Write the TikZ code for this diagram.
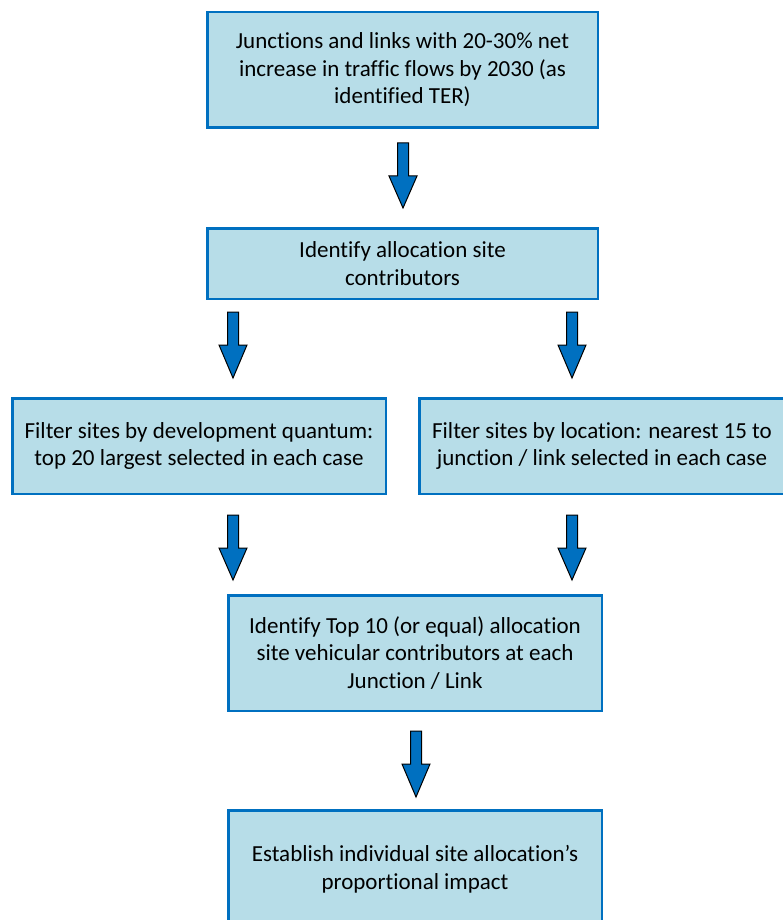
\documentclass[tikz,border=0pt]{standalone}
\usepackage{fontspec}
\setmainfont{Carlito}[Ligatures=NoCommon]
\definecolor{boxfill}{HTML}{B7DDE8}
\definecolor{boxline}{HTML}{0070C0}
\tikzset{
  flowbox/.style={draw=boxline, line width=2.5pt, fill=boxfill, align=center,
    font=\fontsize{23}{27.5}\selectfont, text=black, inner sep=0pt},
  blockarr/.style={draw=black, line width=1pt, fill=boxline, line join=miter}
}
\newcommand\blockarrow[3]{%
  \draw[blockarr] (#1-5.5,#2) -- (#1+5.5,#2) -- (#1+5.5,#2+33) -- (#1+14,#2+33)
    -- (#1,#3) -- (#1-14,#2+33) -- (#1-5.5,#2+33) -- cycle;}
\begin{document}
\begin{tikzpicture}[x=1pt,y=-1pt]
\useasboundingbox (0,0) rectangle (782,920);
\node[flowbox, minimum width=390.5pt, minimum height=115.5pt] (b1) at (402.5,70)
  {Junctions and links with 20-30\% net\\increase in traffic flows by 2030 (as\\identified TER)};
\node[flowbox, minimum width=390.5pt, minimum height=70.5pt] (b2) at (402.5,263.5)
  {Identify allocation site\\contributors};
\node[flowbox, minimum width=373.5pt, minimum height=95.5pt] (b3) at (199,446)
  {Filter sites by development quantum:\\top 20 largest selected in each case};
\node[flowbox, minimum width=365.5pt, minimum height=95.5pt] (b4) at (602,446)
  {Filter sites by location: nearest 15 to\\junction / link selected in each case};
\node[flowbox, minimum width=373.5pt, minimum height=115.5pt] (b5) at (415,653)
  {Identify Top 10 (or equal) allocation\\site vehicular contributors at each\\Junction / Link};
\node[flowbox, minimum width=373.5pt, minimum height=117.5pt] (b6) at (415,869)
  {Establish individual site allocation’s\\proportional impact};
\blockarrow{403}{143}{208}
\blockarrow{233}{312}{378}
\blockarrow{572}{312}{378}
\blockarrow{233}{515}{580}
\blockarrow{572}{515}{580}
\blockarrow{416}{731}{797}
\end{tikzpicture}
\end{document}
